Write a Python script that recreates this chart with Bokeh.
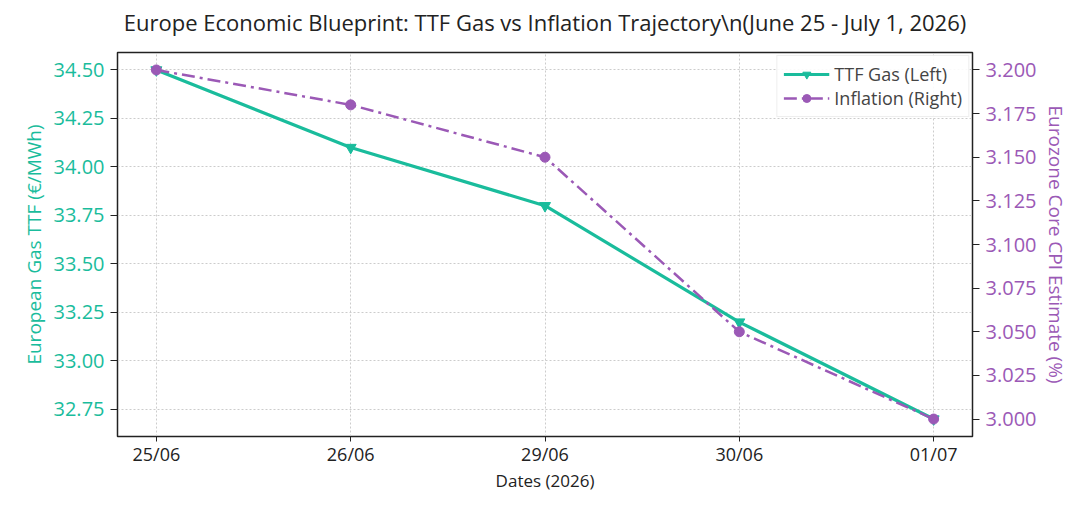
from bokeh.plotting import figure
from bokeh.models import Range1d, LinearAxis, FixedTicker, Legend, LegendItem, PrintfTickFormatter, Title
from bokeh.embed import file_html
from bokeh.resources import INLINE

dates = ["25/06", "26/06", "29/06", "30/06", "01/07"]
ttf_gas = [34.5, 34.1, 33.8, 33.2, 32.7]
inflation = [3.2, 3.18, 3.15, 3.05, 3.0]
left_ticks = [32.75, 33.0, 33.25, 33.5, 33.75, 34.0, 34.25, 34.5]
right_ticks = [3.0, 3.025, 3.05, 3.075, 3.1, 3.125, 3.15, 3.175, 3.2]
title_text = "Europe Economic Blueprint: TTF Gas vs Inflation Trajectory\\n(June 25 - July 1, 2026)"

TEAL = "#1abc9c"
PURPLE = "#9b59b6"
DARK = "#222222"
FONT = "Open Sans"

xs = list(range(len(dates)))

p = figure(width=1072, height=494, output_backend="svg", toolbar_location=None,
           x_range=Range1d(-0.2, 4.2), y_range=Range1d(32.61, 34.59),
           min_border_left=117, min_border_right=92, min_border_top=52, min_border_bottom=40)
p.title.text = title_text
p.title.align = "center"
p.title.text_font = FONT
p.title.text_font_size = "22px"
p.title.text_font_style = "normal"
p.title.text_color = DARK
p.title.standoff = 0
# empty spacer between the title and the plot frame
p.add_layout(Title(text=" ", text_font_size="12px", standoff=0), "above")

p.extra_y_ranges = {"right": Range1d(2.99, 3.21)}
raxis = LinearAxis(y_range_name="right", ticker=FixedTicker(ticks=right_ticks),
                   axis_label="Eurozone Core CPI Estimate (%)")
p.add_layout(raxis, "right")

p.xaxis.ticker = FixedTicker(ticks=xs)
p.xaxis.major_label_overrides = {i: d for i, d in enumerate(dates)}
p.xaxis.axis_label = "Dates (2026)"
p.yaxis[0].ticker = FixedTicker(ticks=left_ticks)
p.yaxis[0].axis_label = "European Gas TTF (€/MWh)"
p.yaxis[0].formatter = PrintfTickFormatter(format="%.2f")
raxis.formatter = PrintfTickFormatter(format="%.3f")

for ax in p.axis:
    ax.major_label_text_font = FONT
    ax.axis_label_text_font = FONT
    ax.axis_label_text_font_style = "normal"
    ax.minor_tick_line_color = None
    ax.major_tick_in = 0
    ax.major_tick_out = 7
    ax.axis_line_color = DARK
    ax.major_tick_line_color = DARK
    ax.major_label_text_font_size = "20px"
    ax.axis_label_text_font_size = "19px"
    ax.major_label_standoff = 6
    ax.axis_label_standoff = 4

p.xaxis.major_label_text_font_size = "18px"
p.xaxis.axis_label_text_font_size = "17px"
p.xaxis.major_tick_out = 5
p.xaxis.major_label_standoff = 0
p.xaxis.axis_label_standoff = 0
p.xaxis.major_label_text_color = DARK
p.xaxis.axis_label_text_color = DARK
p.yaxis[0].major_label_text_color = TEAL
p.yaxis[0].axis_label_text_color = TEAL
raxis.major_label_text_color = PURPLE
raxis.axis_label_text_color = PURPLE

p.outline_line_color = DARK
p.outline_line_width = 1.5
p.xgrid.grid_line_color = "#cccccc"
p.xgrid.grid_line_dash = "2 2"
p.ygrid.grid_line_color = "#cccccc"
p.ygrid.grid_line_dash = "2 2"

g1 = p.line(xs, ttf_gas, line_color=TEAL, line_width=3.2)
g1m = p.scatter(xs, ttf_gas, marker="inverted_triangle", size=11, color=TEAL)
g2 = p.line(xs, inflation, line_color=PURPLE, line_width=2.5, line_dash="13 5 3 5", y_range_name="right")
g2m = p.scatter(xs, inflation, marker="circle", size=10, color=PURPLE, y_range_name="right")

legend = Legend(items=[LegendItem(label="TTF Gas (Left)", renderers=[g1, g1m]),
                       LegendItem(label="Inflation (Right)", renderers=[g2, g2m])],
                location="top_right", label_text_font=FONT, label_text_font_size="18px",
                border_line_color="#dddddd", background_fill_alpha=0.9,
                glyph_width=46, spacing=0, padding=6, margin=3, label_height=22)
p.add_layout(legend)

open("out.html", "w").write(file_html(p, INLINE))
